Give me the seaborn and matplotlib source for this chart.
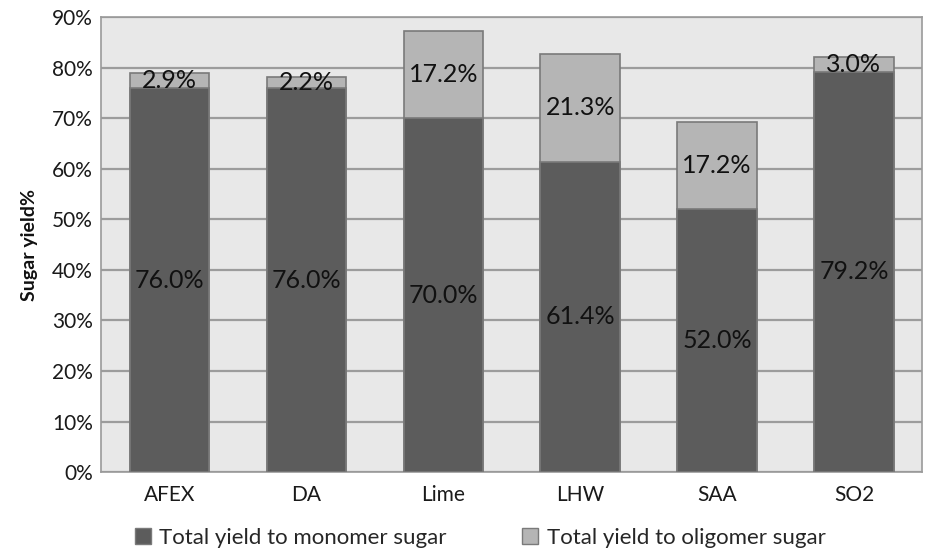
import matplotlib
matplotlib.use("Agg")
import matplotlib.pyplot as plt
import seaborn as sns
import pandas as pd
from matplotlib.patches import Patch
from matplotlib.ticker import PercentFormatter

categories = ["AFEX", "DA", "Lime", "LHW", "SAA", "SO2"]
monomer = [76.0, 76.0, 70.0, 61.4, 52.0, 79.2]
oligomer = [2.9, 2.2, 17.2, 21.3, 17.2, 3.0]
series_names = ["Total yield to monomer sugar", "Total yield to oligomer sugar"]

dark = "#5c5c5c"
light = "#b5b5b5"
edge = "#7a7a7a"

sns.set_theme(style="white")
plt.rcParams["font.family"] = ["Lato", "DejaVu Sans"]

df = pd.DataFrame({"cat": categories, "mono": monomer, "olig": oligomer})
df["total"] = df["mono"] + df["olig"]

fig = plt.figure(figsize=(9.27, 5.51), dpi=100)
ax = fig.add_axes([0.109, 0.143, 0.886, 0.826])
ax.set_facecolor("#e8e8e8")

sns.barplot(data=df, x="cat", y="total", color=light, width=0.58,
            edgecolor=edge, linewidth=1.2, saturation=1, ax=ax, zorder=3)
sns.barplot(data=df, x="cat", y="mono", color=dark, width=0.58,
            edgecolor=edge, linewidth=1.2, saturation=1, ax=ax, zorder=4)

for i, (m, o) in enumerate(zip(monomer, oligomer)):
    ax.text(i, m / 2, f"{m:.1f}%", ha="center", va="center",
            fontsize=18, color="#111111", zorder=5)
    ax.text(i, m + o / 2, f"{o:.1f}%", ha="center", va="center",
            fontsize=18, color="#111111", zorder=5)

ax.set_ylim(0, 90)
ax.set_yticks(range(0, 91, 10))
ax.yaxis.set_major_formatter(PercentFormatter(decimals=0))
ax.grid(axis="y", color="#9c9c9c", linewidth=1.6, zorder=0)
ax.set_axisbelow(True)
ax.set_xlim(-0.5, 5.5)
ax.tick_params(axis="y", length=0, labelsize=15, colors="#1a1a1a", pad=6)
ax.tick_params(axis="x", length=0, labelsize=15, colors="#1a1a1a", pad=9)
ax.set_xlabel("")
ax.set_ylabel("Sugar yield%", fontsize=14, fontweight="bold", color="#111111", labelpad=10)
for s in ax.spines.values():
    s.set_color("#9a9a9a")
    s.set_linewidth(1.2)

handles = [Patch(facecolor=dark, edgecolor=edge), Patch(facecolor=light, edgecolor=edge)]
fig.legend(handles, series_names, loc="lower left", bbox_to_anchor=(0.124, -0.03),
           ncol=2, frameon=False, fontsize=16, handlelength=0.7, handleheight=0.7,
           handletextpad=0.4, columnspacing=3.4)

fig.savefig("out.png", dpi=100)
